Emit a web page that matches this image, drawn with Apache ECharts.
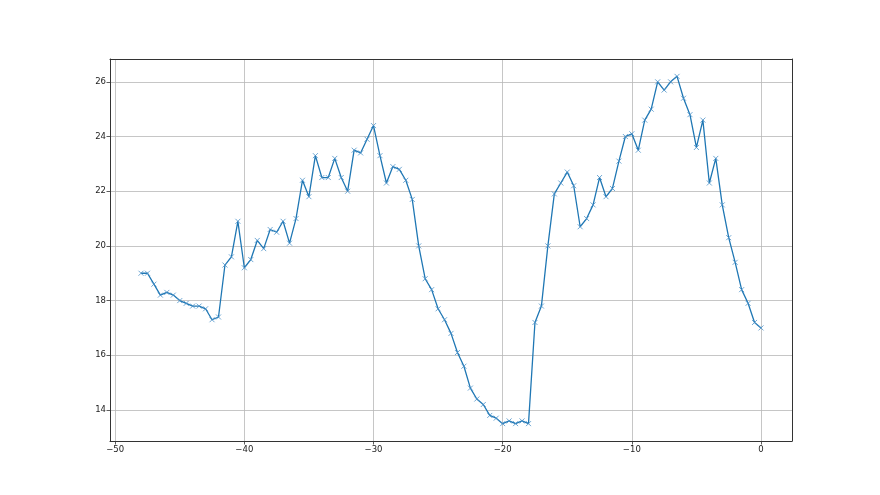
<!DOCTYPE html>
<html>
<head>
<meta charset="utf-8">
<script src="https://cdn.jsdelivr.net/npm/echarts@6/dist/echarts.min.js"></script>
<style>html,body{margin:0;padding:0;background:#fff}#c{width:880px;height:495px}</style>
</head>
<body>
<div id="c"></div>
<script>
const xValues = [-48,-47.5,-47,-46.5,-46,-45.5,-45,-44.5,-44,-43.5,-43,-42.5,-42,-41.5,-41,-40.5,-40,-39.5,-39,-38.5,-38,-37.5,-37,-36.5,-36,-35.5,-35,-34.5,-34,-33.5,-33,-32.5,-32,-31.5,-31,-30.5,-30,-29.5,-29,-28.5,-28,-27.5,-27,-26.5,-26,-25.5,-25,-24.5,-24,-23.5,-23,-22.5,-22,-21.5,-21,-20.5,-20,-19.5,-19,-18.5,-18,-17.5,-17,-16.5,-16,-15.5,-15,-14.5,-14,-13.5,-13,-12.5,-12,-11.5,-11,-10.5,-10,-9.5,-9,-8.5,-8,-7.5,-7,-6.5,-6,-5.5,-5,-4.5,-4,-3.5,-3,-2.5,-2,-1.5,-1,-0.5,0];
const yValues = [19.0,19.0,18.6,18.2,18.3,18.2,18.0,17.9,17.8,17.8,17.7,17.3,17.4,19.3,19.6,20.9,19.2,19.5,20.2,19.9,20.6,20.5,20.9,20.1,21.0,22.4,21.8,23.3,22.5,22.5,23.2,22.5,22.0,23.5,23.4,23.9,24.4,23.3,22.3,22.9,22.8,22.4,21.7,20.0,18.8,18.4,17.7,17.3,16.8,16.1,15.6,14.8,14.4,14.2,13.8,13.7,13.5,13.6,13.5,13.6,13.5,17.2,17.8,20.0,21.9,22.3,22.7,22.2,20.7,21.0,21.5,22.5,21.8,22.1,23.1,24.0,24.1,23.5,24.6,25.0,26.0,25.7,26.0,26.2,25.4,24.8,23.6,24.6,22.3,23.2,21.5,20.3,19.4,18.4,17.9,17.2,17.0];
const xTicks = [-50,-40,-30,-20,-10,0];
const yTicks = [14,16,18,20,22,24,26];

const chart = echarts.init(document.getElementById('c'), null, {renderer:'canvas'});
const fmt = v => String(v).replace('-', '\u2212');
const axisCommon = {
  axisLine:{show:true,onZero:false,lineStyle:{color:'#333',width:1}},
  axisTick:{show:true,length:3.5,lineStyle:{color:'#333',width:0.8}},
  axisLabel:{color:'#222',fontFamily:'DejaVu Sans',fontSize:8.5,margin:4,formatter:fmt},
  splitLine:{show:true,lineStyle:{color:'#b8b8b8',width:0.8}}
};
chart.setOption({
  animation:false,
  grid:{left:110,top:59,width:682,height:382,containLabel:false,show:false},
  xAxis:[{
    type:'value',min:-50.4,max:2.4,position:'bottom',
    ...axisCommon,
    axisTick:{...axisCommon.axisTick,customValues:xTicks},
    axisLabel:{...axisCommon.axisLabel,customValues:xTicks}
  },{
    type:'value',min:-50.4,max:2.4,position:'top',
    axisLine:{show:true,onZero:false,lineStyle:{color:'#333',width:1}},
    axisTick:{show:false},axisLabel:{show:false},splitLine:{show:false}
  }],
  yAxis:[{
    type:'value',min:12.865,max:26.835,position:'left',
    ...axisCommon,
    axisTick:{...axisCommon.axisTick,customValues:yTicks},
    axisLabel:{...axisCommon.axisLabel,customValues:yTicks}
  },{
    type:'value',min:12.865,max:26.835,position:'right',
    axisLine:{show:true,onZero:false,lineStyle:{color:'#333',width:1}},
    axisTick:{show:false},axisLabel:{show:false},splitLine:{show:false}
  }],
  series:[{
    type:'line',
    data:xValues.map((x,i)=>[x,yValues[i]]),
    lineStyle:{color:'#1f77b4',width:1.3},
    symbol:'path://M0,0L10,10M10,0L0,10',
    symbolSize:5,
    showAllSymbol:true,
    itemStyle:{color:'#1f77b4',borderColor:'#4a90c8',borderWidth:0.8},
    emphasis:{disabled:true}
  }]
});
</script>
</body>
</html>
